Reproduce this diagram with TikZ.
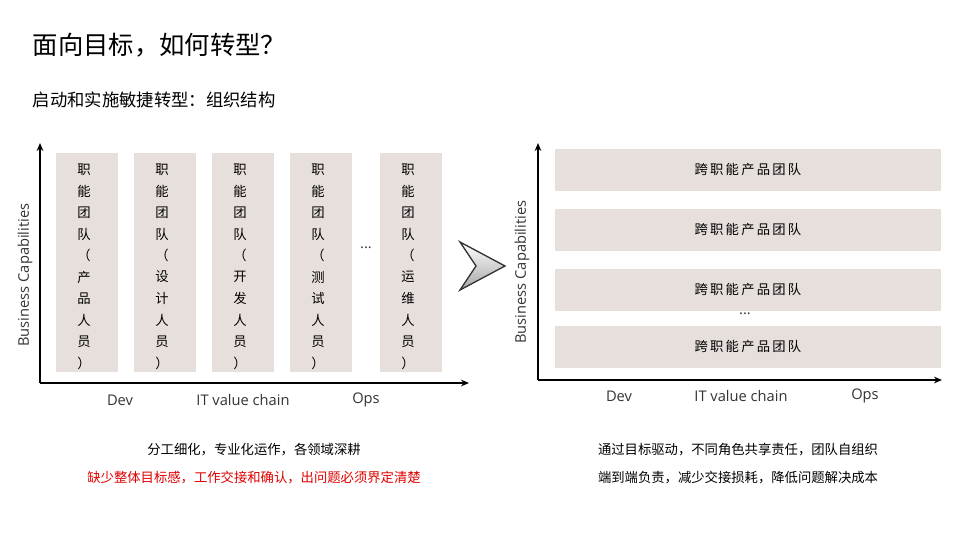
\documentclass[tikz,border=0pt]{standalone}
\usepackage{fontspec}
\setmainfont{Noto Sans CJK SC}
\newfontfamily\latin{Open Sans}
\usetikzlibrary{arrows.meta,calc}
\definecolor{boxc}{HTML}{E6DFDC}
\definecolor{txt}{HTML}{333333}
\definecolor{redt}{HTML}{E00000}
\begin{document}
\begin{tikzpicture}[x=0.75pt,y=-0.75pt,
  axis/.style={line width=1.2pt,-{Stealth[length=6pt,width=5pt]},black},
  col/.style={fill=boxc,draw=none,minimum width=46.5pt,minimum height=164pt,anchor=north west,inner sep=0pt},
  bar/.style={fill=boxc,draw=none,minimum width=289pt,minimum height=31pt,anchor=north west,inner sep=0pt},
  lab/.style={font=\latin\fontsize{11}{13}\selectfont,text=txt},
  small/.style={font=\fontsize{10}{12}\selectfont,text=black}]
\useasboundingbox (0,0) rectangle (959,539);
\node[anchor=west,font=\fontsize{19}{22}\selectfont] (t) at (28,45) {面向目标，如何转型？};
\node[anchor=west,font=\fontsize{13}{16}\selectfont] (st) at (28,100) {启动和实施敏捷转型：组织结构};
% left
\coordinate (lo) at (40,383);
\coordinate (ly) at (40,143);
\coordinate (lx) at (469,383);
\draw[axis] (lo) -- (ly);
\draw[axis] (lo) -- (lx);
\foreach \x/\n/\a/\b in {56/c1/产/品,134/c2/设/计,212/c3/开/发,290/c4/测/试,380/c5/运/维}{
  \node[col] (\n) at (\x,153) {};
  \foreach \ch [count=\i] in {职,能,团,队,（,\a,\b,人,员,）}{
    \node[small,inner sep=0pt] at ($(\x,148)+(28,21.5*\i)$) {\ch};
  }
}
\node[lab] (ldots) at (366,248) {...};
\node[lab] (ldev) at (120,400) {Dev};
\node[lab] (lit) at (243,400) {IT value chain};
\node[lab] (lops) at (366,400) {Ops};
\node[lab,rotate=90] (lbc) at (25,275) {Business Capabilities};
\node[small] (lt1) at (254,450) {分工细化，专业化运作，各领域深耕};
\node[small,text=redt] (lt2) at (254,478) {缺少整体目标感，工作交接和确认，出问题必须界定清楚};
% chevron
\shade[top color=white,bottom color=gray!70,draw=black!80,line width=1pt]
 (460,242) -- (505,266) -- (460,290) -- (476,266) -- cycle;
% right
\coordinate (ro) at (538,380);
\coordinate (ry) at (538,143);
\coordinate (rx) at (942,380);
\draw[axis] (ro) -- (ry);
\draw[axis] (ro) -- (rx);
\foreach \y/\n in {149/b1,209/b2,269/b3,326/b4}{
  \node[bar] (\n) at (555,\y) {};
  \node[small] at (\n.center) {跨\,职\,能\,产\,品\,团\,队};
}
\node[lab] (rdots) at (745,314) {...};
\node[lab] (rdev) at (619,396) {Dev};
\node[lab] (rit) at (741,396) {IT value chain};
\node[lab] (rops) at (865,396) {Ops};
\node[lab,rotate=90] (rbc) at (522,272) {Business Capabilities};
\node[small] (rt1) at (738,450) {通过目标驱动，不同角色共享责任，团队自组织};
\node[small] (rt2) at (738,478) {端到端负责，减少交接损耗，降低问题解决成本};
\end{tikzpicture}
\end{document}
